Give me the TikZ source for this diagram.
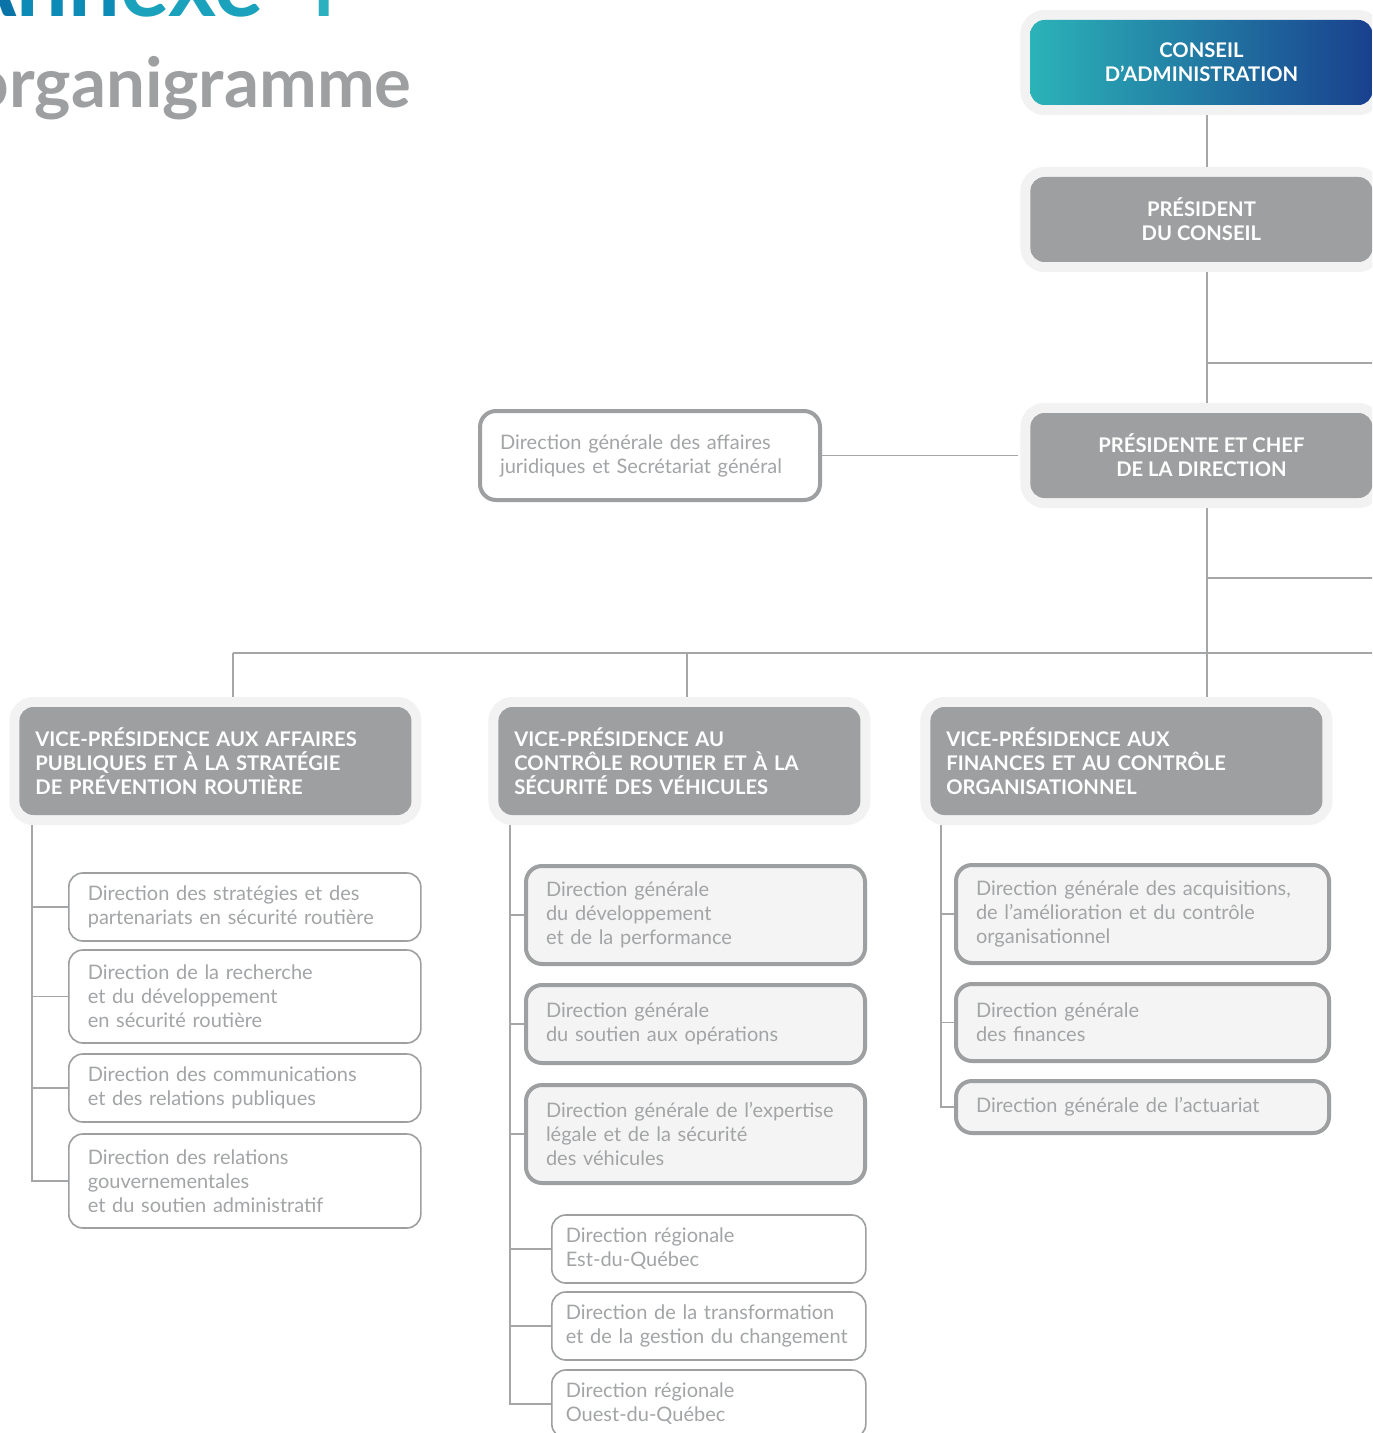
\documentclass[tikz,border=0pt]{standalone}
\usepackage{fontspec}
\setmainfont{Lato}
\definecolor{hgrey}{HTML}{9D9FA0}
\definecolor{haloc}{HTML}{F2F2F2}
\definecolor{txtgrey}{HTML}{A2A4A6}
\definecolor{thickfill}{HTML}{F4F4F4}
\definecolor{lnc}{HTML}{A4A6A8}
\definecolor{cteal}{HTML}{2BB3B8}
\definecolor{cmid}{HTML}{0680B0}
\definecolor{cblue}{HTML}{19408E}
\definecolor{ta}{HTML}{0A74A8}
\definecolor{tb}{HTML}{0B8BB6}
\definecolor{tc}{HTML}{1AA1BC}
\definecolor{td}{HTML}{2AB0BE}
\newcommand{\headfont}{\bfseries\fontsize{10.1}{12}\selectfont}
\newcommand{\dirfont}{\fontsize{10}{12}\selectfont}
\tikzset{
  conn/.style={draw=lnc, line width=0.6pt},
  halo/.style={preaction={draw=haloc, line width=10pt}},
  topbox/.style={halo, rounded corners=7pt, text=white, font=\headfont, align=center,
    minimum width=171pt, minimum height=42.5pt, anchor=west},
  vpbox/.style={halo, fill=hgrey, rounded corners=7pt, text=white, font=\headfont,
    align=left, minimum height=54pt, inner xsep=8pt, anchor=west},
  dirthick/.style={draw=hgrey, line width=2pt, fill=thickfill, rounded corners=8pt,
    text=txtgrey, font=\dirfont, align=left, anchor=west, inner xsep=10pt},
  dirthin/.style={draw=hgrey, line width=0.8pt, fill=white, rounded corners=7pt,
    text=txtgrey, font=\dirfont, align=left, anchor=west, inner xsep=9.5pt},
}
\begin{document}
\begin{tikzpicture}[x=0.5pt,y=-0.5pt]
  \clip (0,0) rectangle (1372,1433);
  \fill[white] (0,0) rectangle (1372,1433);

  % title
  \node[anchor=base east, inner sep=0pt, font=\bfseries\fontsize{46}{50}\selectfont]
    (annexe) at (340,17) {\textcolor{ta}{A}\textcolor{tb}{nn}\textcolor{tc}{exe} \textcolor{td}{4}};
  \node[anchor=base east, inner sep=0pt, text=hgrey, font=\bfseries\fontsize{34.5}{40}\selectfont]
    (titre) at (412,108) {organigramme};

  % direction
  \node[topbox, left color=cteal, middle color=cmid, right color=cblue] (ca) at (1030,62.5)
    {CONSEIL\\D’ADMINISTRATION};
  \node[topbox, fill=hgrey] (pc) at (1030,219.5) {PRÉSIDENT\\DU CONSEIL};
  \node[topbox, fill=hgrey] (pdg) at (1030,455.5) {PRÉSIDENTE ET CHEF\\DE LA DIRECTION};
  \node[dirthick, fill=white, text width=150pt, minimum height=44.5pt] (jur) at (478,455.5)
    {Direction générale des affaires\\juridiques et Secrétariat général};

  % vice-presidences
  \node[vpbox, text width=180pt] (vp1) at (19,761)
    {VICE-PRÉSIDENCE AUX AFFAIRES\\PUBLIQUES ET À LA STRATÉGIE\\DE PRÉVENTION ROUTIÈRE};
  \node[vpbox, text width=165pt] (vp2) at (498,761)
    {VICE-PRÉSIDENCE AU\\CONTRÔLE ROUTIER ET À LA\\SÉCURITÉ DES VÉHICULES};
  \node[vpbox, text width=180pt] (vp3) at (930,761)
    {VICE-PRÉSIDENCE AUX\\FINANCES ET AU CONTRÔLE\\ORGANISATIONNEL};

  % column 1
  \node[dirthin, text width=157pt, minimum height=34pt] (b1) at (68,907)
    {Direction des stratégies et des\\partenariats en sécurité routière};
  \node[dirthin, text width=157pt, minimum height=46.5pt] (b2) at (68,996.5)
    {Direction de la recherche\\et du développement\\en sécurité routière};
  \node[dirthin, text width=157pt, minimum height=47pt] (b4) at (68,1181)
    {Direction des relations\\gouvernementales\\et du soutien administratif};
  \node[dirthin, text width=157pt, minimum height=34pt] (b3) at (68,1088)
    {Direction des communications\\et des relations publiques};

  % column 2
  \node[dirthick, text width=149.5pt, minimum height=49pt] (c1) at (524,915)
    {Direction générale\\du développement\\et de la performance};
  \node[dirthick, text width=149.5pt, minimum height=39pt] (c2) at (524,1024)
    {Direction générale\\du soutien aux opérations};
  \node[dirthick, text width=149.5pt, minimum height=49pt] (c3) at (524,1134)
    {Direction générale de l’expertise\\légale et de la sécurité\\des véhicules};
  \node[dirthin, text width=143pt, minimum height=34pt, inner xsep=7pt] (c4) at (551,1249)
    {Direction régionale\\Est-du-Québec};
  \node[dirthin, text width=143pt, minimum height=34pt, inner xsep=7pt] (c5) at (551,1326)
    {Direction de la transformation\\et de la gestion du changement};
  \node[dirthin, text width=143pt, minimum height=34pt, inner xsep=7pt] (c6) at (551,1404)
    {Direction régionale\\Ouest-du-Québec};

  % column 3
  \node[dirthick, text width=166.5pt, minimum height=49pt] (d1) at (954,914)
    {Direction générale des acquisitions,\\de l’amélioration et du contrôle\\organisationnel};
  \node[dirthick, text width=166.5pt, minimum height=38.5pt] (d2) at (954,1022.5)
    {Direction générale\\des finances};
  \node[dirthick, text width=166.5pt, minimum height=26pt] (d3) at (954,1107)
    {Direction générale de l’actuariat};

  % connectors
  \coordinate (spine) at (1207,0);
  \coordinate (offA) at (1380,363);
  \coordinate (offB) at (1380,578);
  \coordinate (offC) at (1380,653);
  \coordinate (bus1) at (233,653);
  \coordinate (bus2) at (687,653);
  \coordinate (sp1) at (32,0);
  \coordinate (sp2) at (510,0);
  \coordinate (sp3) at (941,0);
  \draw[conn, shorten <=5pt, shorten >=5pt] (ca.south -| spine) -- (pc.north -| spine);
  \draw[conn, shorten <=5pt, shorten >=5pt] (pc.south -| spine) -- (pdg.north -| spine);
  \draw[conn, shorten <=5pt, shorten >=5pt] (pdg.south -| spine) -- (vp3.north -| spine);
  \draw[conn] (offA -| spine) -- (offA);
  \draw[conn] (offB -| spine) -- (offB);
  \draw[conn] (bus1) -- (offC);
  \draw[conn, shorten >=5pt] (bus1) -- (bus1 |- vp1.north);
  \draw[conn, shorten >=5pt] (bus2) -- (bus2 |- vp2.north);
  \draw[conn, shorten >=6pt] (jur.east) -- (pdg.west);
  \draw[conn, shorten <=5pt] (vp1.south -| sp1) |- (b4.west);
  \draw[conn, shorten <=5pt] (vp2.south -| sp2) |- (c6.west);
  \draw[conn, shorten <=5pt] (vp3.south -| sp3) |- (d3.west);
  \foreach \b in {b1,b2,b3} \draw[conn] (sp1 |- \b.west) -- (\b.west);
  \foreach \c in {c1,c2,c3,c4,c5} \draw[conn] (sp2 |- \c.west) -- (\c.west);
  \foreach \d in {d1,d2} \draw[conn] (sp3 |- \d.west) -- (\d.west);
\end{tikzpicture}
\end{document}
